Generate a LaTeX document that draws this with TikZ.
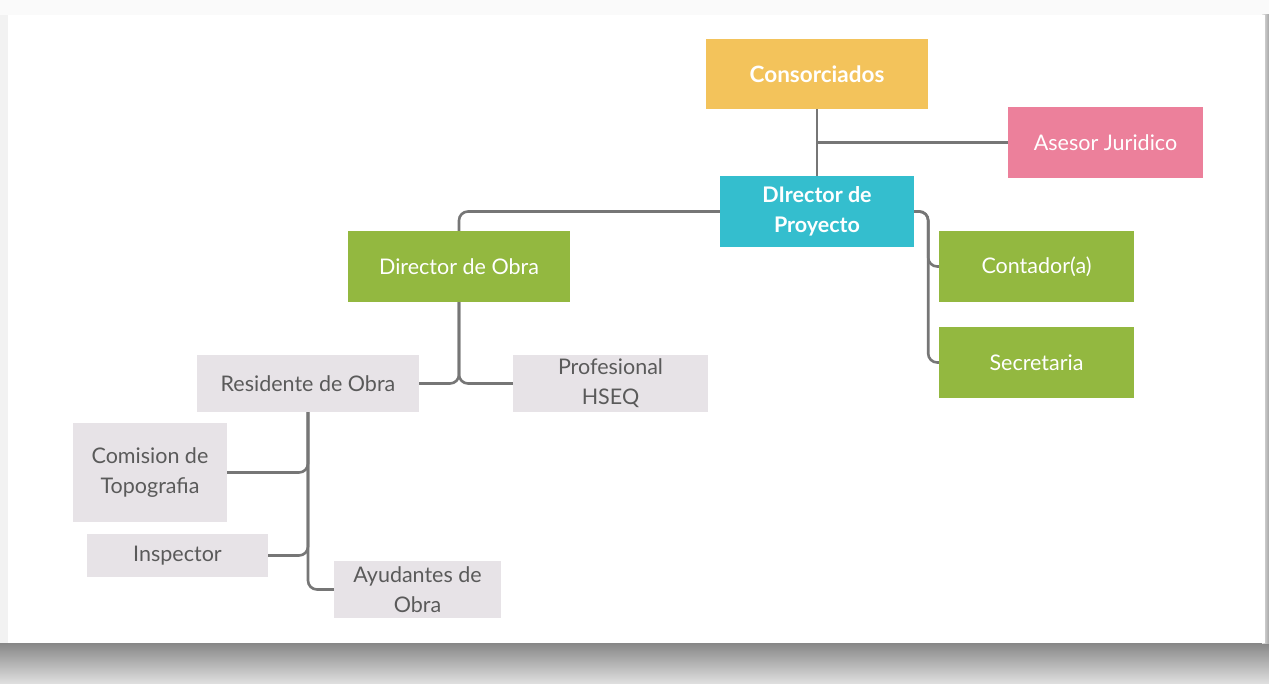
\documentclass[tikz,border=0pt]{standalone}
\usepackage{fontspec}
\setmainfont{Lato}
\usetikzlibrary{calc}
\definecolor{cYellow}{HTML}{F3C35B}
\definecolor{cPink}{HTML}{EC809B}
\definecolor{cCyan}{HTML}{34BECE}
\definecolor{cGreen}{HTML}{93B840}
\definecolor{cLight}{HTML}{E7E3E7}
\definecolor{cText}{HTML}{5A5A5A}
\definecolor{cLine}{HTML}{767676}
\begin{document}
\begin{tikzpicture}[x=1pt,y=-1pt,
  box/.style={inner sep=0pt, align=center, font=\fontsize{21.5}{30}\selectfont},
  colbox/.style={box, text=white},
  greybox/.style={box, fill=cLight, text=cText},
  link/.style={draw=cLine, line width=2.6pt, rounded corners=9pt}]
\useasboundingbox (0,0) rectangle (1269,684);
% sheet, frame and drop shadow
\fill[black!5] (0,0) rectangle (1269,684);
\fill[black!2] (0,0) rectangle (1269,15);
\shade[top color=black!47, bottom color=black!12] (0,643) rectangle (1269,684);
\shade[left color=black!10, right color=black!35] (1262,15) rectangle (1269,643);
\fill[white] (8,15) rectangle (1265,643);
% boxes
\node[colbox, fill=cYellow, minimum width=222pt, minimum height=70pt, font=\fontsize{22.5}{30}\selectfont\bfseries] (con) at (817,74) {Consorciados};
\node[colbox, fill=cPink, minimum width=195pt, minimum height=71pt] (ase) at (1105.5,142.5) {Asesor Juridico};
\node[colbox, fill=cCyan, minimum width=194pt, minimum height=71pt, font=\fontsize{21.5}{30}\selectfont\bfseries] (dp) at (817,211.5) {DIrector de\\Proyecto};
\node[colbox, fill=cGreen, minimum width=222pt, minimum height=71pt] (dob) at (459,266.5) {Director de Obra};
\node[colbox, fill=cGreen, minimum width=195pt, minimum height=71pt] (cont) at (1036.5,266.5) {Contador(a)};
\node[colbox, fill=cGreen, minimum width=195pt, minimum height=71pt] (sec) at (1036.5,362.5) {Secretaria};
\node[greybox, minimum width=222pt, minimum height=57pt] (res) at (308,383.5) {Residente de Obra};
\node[greybox, minimum width=195pt, minimum height=57pt] (hseq) at (610.5,383.5) {Profesional\\HSEQ};
\node[greybox, minimum width=154pt, minimum height=99pt] (com) at (150,472.5) {Comision de\\Topografia};
\node[greybox, minimum width=181pt, minimum height=43pt] (ins) at (177.5,555.5) {Inspector};
\node[greybox, minimum width=167pt, minimum height=57pt] (ayu) at (417.5,589.5) {Ayudantes de\\Obra};
% connectors
\coordinate (j1) at (con.south |- ase.west);
\draw[link] (con.south) -- (dp.north);
\draw[link] (j1) -- (ase.west);
\draw[link] (dp.west) -| (dob.north);
\draw[link] (dp.east) -- ++(14,0) |- (cont.west);
\draw[link] (dp.east) -- ++(14,0) |- (sec.west);
\draw[link] (dob.south) |- (res.east);
\draw[link] (dob.south) |- (hseq.west);
\draw[link] (res.south) |- (ayu.west);
\draw[link] (com.east) -| (res.south);
\draw[link] (ins.east) -| (res.south);
\end{tikzpicture}
\end{document}
